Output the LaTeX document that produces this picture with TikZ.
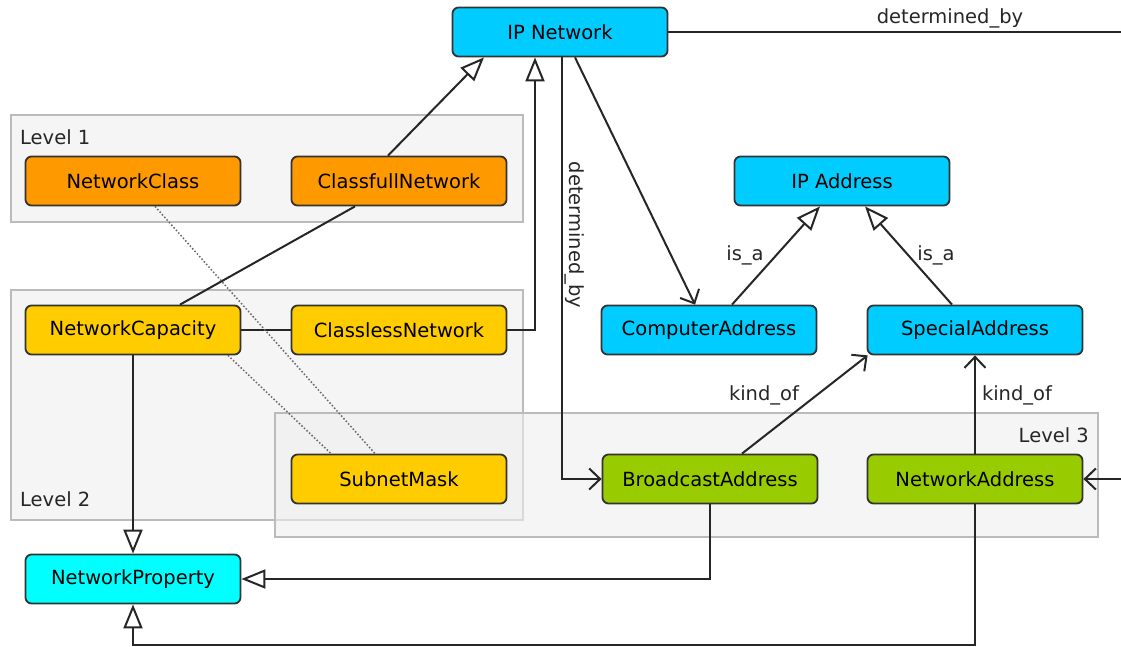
\documentclass[tikz,border=0pt]{standalone}
\usepackage{fontspec}
\setmainfont{DejaVu Sans}
\usetikzlibrary{arrows.meta,calc}
\definecolor{ipblue}{HTML}{00CCFF}
\definecolor{npcyan}{HTML}{00FFFF}
\definecolor{orangec}{HTML}{FF9900}
\definecolor{yellowc}{HTML}{FFCC00}
\definecolor{greenc}{HTML}{99CC00}
\definecolor{levelfill}{HTML}{EEEEEE}
\definecolor{levelline}{HTML}{BBBBBB}
\tikzset{
  cls/.style={draw=black!80, rounded corners=6pt, line width=1.8pt, minimum width=215pt, minimum height=49pt, inner sep=0pt, font=\fontsize{19.5}{23}\selectfont},
  level/.style={draw=levelline, fill=levelfill, fill opacity=0.6, line width=1.5pt},
  lvltext/.style={font=\fontsize{19.5}{23}\selectfont, text=black!85, inner sep=0pt},
  lbl/.style={font=\fontsize{19.5}{23}\selectfont, text=black!85, inner sep=1pt},
  edge/.style={draw=black!85, line width=2pt},
  isa/.style={edge, -{Triangle[open, length=24pt, width=19pt]}},
  rel/.style={edge, -{Straight Barb[length=11pt, width=21pt]}},
  dots/.style={draw=black!60, line width=1.5pt, dotted}
}
\begin{document}
\begin{tikzpicture}[x=1pt,y=-1pt]
\useasboundingbox (0,0) rectangle (1121,647);
% level boxes
\draw[level] (11,115) rectangle (523,222);
\draw[level] (11,290) rectangle (523,520);
\draw[level] (275,413) rectangle (1098,537);
\node[lvltext, anchor=west] (l1) at (20,137) {Level 1};
\node[lvltext, anchor=west] (l2) at (20,499) {Level 2};
\node[lvltext, anchor=east] (l3) at (1089,435) {Level 3};
% coordinates
\coordinate (rt1) at (1121,32);
\coordinate (rt2) at (1121,479);
\coordinate (bot) at (0,645);
\coordinate (ccorner) at (535,330);
% nodes
\node[cls, fill=ipblue] (ipn) at (560,32) {IP Network};
\node[cls, fill=orangec] (nc) at (133,181) {NetworkClass};
\node[cls, fill=orangec] (cf) at (399,181) {ClassfullNetwork};
\node[cls, fill=yellowc] (ncap) at (133,330) {NetworkCapacity};
\node[cls, fill=yellowc] (cl) at (399,330) {ClasslessNetwork};
\node[cls, fill=yellowc] (sm) at (399,479) {SubnetMask};
\node[cls, fill=ipblue] (ipa) at (842,181) {IP Address};
\node[cls, fill=ipblue] (ca) at (709,330) {ComputerAddress};
\node[cls, fill=ipblue] (sa) at (975,330) {SpecialAddress};
\node[cls, fill=greenc] (ba) at (710,479) {BroadcastAddress};
\node[cls, fill=greenc] (na) at (975,479) {NetworkAddress};
\node[cls, fill=npcyan] (np) at (133,579) {NetworkProperty};
% edges
\draw[isa] ([xshift=-11pt]cf.north) -- ([xshift=-76pt]ipn.south);
\draw[isa] (cl.east) -- (ccorner) -- (ccorner |- ipn.south);
\draw[edge] ([xshift=47pt]ncap.north) -- ([xshift=-44pt]cf.south);
\draw[edge] (ncap.east) -- (cl.west);
\draw[dots] ([xshift=22pt]nc.south) -- ([xshift=-24pt]sm.north);
\draw[dots] ([xshift=95pt]ncap.south) -- ([xshift=-68pt]sm.north);
\draw[isa] (ncap.south) -- (np.north);
\draw[rel] ([xshift=2pt]ipn.south) |- (ba.west);
\node[lbl, rotate=-90] (db1) at (575,235) {determined\_by};
\draw[rel] ([xshift=15pt]ipn.south) -- ([xshift=-14pt]ca.north);
\draw[isa] ([xshift=23pt]ca.north) -- ([xshift=-22pt]ipa.south);
\node[lbl] (isa1) at (745,255) {is\_a};
\draw[isa] ([xshift=-23pt]sa.north) -- ([xshift=23pt]ipa.south);
\node[lbl] (isa2) at (936,255) {is\_a};
\draw[rel] ([xshift=32pt]ba.north) -- ([xshift=1pt]sa.south west);
\node[lbl] (ko1) at (764,395) {kind\_of};
\draw[rel] (na.north) -- (sa.south);
\node[lbl] (ko2) at (1017,395) {kind\_of};
\draw[isa] (ba.south) |- (np.east);
\draw[isa] (na.south) -- (na.south |- bot) -| (np.south);
\draw[edge] (ipn.east) -- (rt1);
\node[lbl] (db2) at (950,18) {determined\_by};
\draw[rel] (rt2) -- (na.east);
\end{tikzpicture}
\end{document}
